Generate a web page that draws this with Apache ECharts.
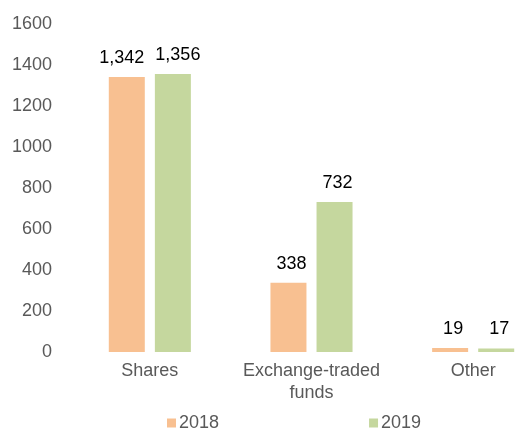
<!DOCTYPE html>
<html>
<head>
<meta charset="utf-8">
<script src="https://cdn.jsdelivr.net/npm/echarts@6/dist/echarts.min.js"></script>
<style>
  html, body { margin: 0; padding: 0; background: #fff; }
  #container { width: 515px; height: 432px; }
</style>
</head>
<body>
<div id="container"></div>
<script>
let categories = ['Shares', 'Exchange-traded\nfunds', 'Other'];
let values2018 = [1342, 338, 19];
let values2019 = [1356, 732, 17];
let yTicks = { min: 0, max: 1600, interval: 200 };

// small horizontal nudges of the value labels, as in the original
let labelShift2018 = [-5, 3, 3];
let labelShift2019 = [5, 3, 3];

let chart = echarts.init(document.getElementById('container'));

let barLabel = {
    show: true,
    position: 'top',
    distance: 10,
    color: '#000',
    fontSize: 18,
    fontFamily: 'Liberation Sans',
    formatter: params => params.value.toLocaleString('en-US'),
};

function toItems(values, shifts) {
    return values.map((v, i) => ({
        value: v,
        label: { offset: [shifts[i], 0] },
    }));
}

let option = {
    animation: false,
    textStyle: { fontFamily: 'Liberation Sans' },
    legend: {
        data: ['2018', '2019'],
        top: 414,
        left: 167,
        padding: 0,
        itemWidth: 9,
        itemHeight: 9,
        itemGap: 150,
        icon: 'rect',
        textStyle: { fontSize: 18, color: '#595959', padding: [0, 0, 0, -2] },
    },
    grid: {
        left: 69,
        top: 24,
        bottom: 80,
        width: 485,
        outerBoundsMode: 'none',
        containLabel: false,
    },
    xAxis: {
        type: 'category',
        data: categories,
        axisLine: { show: false },
        axisTick: { show: false },
        axisLabel: {
            interval: 0,
            fontSize: 18,
            color: '#595959',
            margin: 8,
            lineHeight: 22,
        },
    },
    yAxis: {
        type: 'value',
        min: yTicks.min,
        max: yTicks.max,
        interval: yTicks.interval,
        splitLine: { show: false },
        axisLine: { show: false },
        axisTick: { show: false },
        axisLabel: {
            fontSize: 18,
            color: '#595959',
            margin: 17,
            padding: [3, 0, 0, 0],
            formatter: value => String(value),
        },
    },
    series: [{
            name: '2018',
            type: 'bar',
            barWidth: 36,
            barGap: '28%',
            itemStyle: { color: '#F8C091' },
            label: barLabel,
            data: toItems(values2018, labelShift2018),
        },
        {
            name: '2019',
            type: 'bar',
            barWidth: 36,
            itemStyle: { color: '#C5D79E' },
            label: barLabel,
            data: toItems(values2019, labelShift2019),
        },
    ]
};
chart.setOption(option);
</script>
</body>
</html>
